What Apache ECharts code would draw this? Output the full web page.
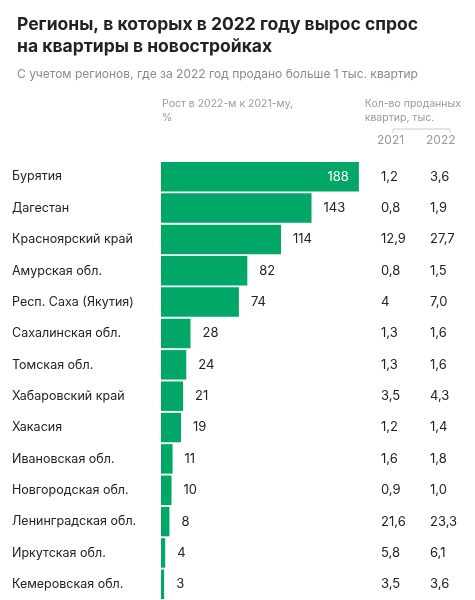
<!DOCTYPE html>
<html><head><meta charset="utf-8">
<script src="https://cdn.jsdelivr.net/npm/echarts@6/dist/echarts.min.js"></script>
<style>body{margin:0}#c{width:475px;height:600px}</style>
</head><body><div id="c"></div>
<script>
// данные
var regions = ['Бурятия','Дагестан','Красноярский край','Амурская обл.','Респ. Саха (Якутия)','Сахалинская обл.','Томская обл.','Хабаровский край','Хакасия','Ивановская обл.','Новгородская обл.','Ленинградская обл.','Иркутская обл.','Кемеровская обл.'];
var growth = [188,143,114,82,74,28,24,21,19,11,10,8,4,3];
var sold2021 = ['1,2','0,8','12,9','0,8','4','1,3','1,3','3,5','1,2','1,6','0,9','21,6','5,8','3,5'];
var sold2022 = ['3,6','1,9','27,7','1,5','7,0','1,6','1,6','4,3','1,4','1,8','1,0','23,3','6,1','3,6'];

var FONT = 'Inter, Roboto, sans-serif';
var myChart = echarts.init(document.getElementById('c'));

var barData = growth.map(function(v, i) {
	if (i == 0) {
		return { value: v, label: { position: 'insideRight', color: '#fff', distance: 10 } };
	}
	return v;
});

function sideAxis(arr, margin) {
	return {
		type: 'category', data: regions, inverse: true, position: 'right',
		axisLine: { show: false }, axisTick: { show: false },
		axisLabel: {
			align: 'left', margin: margin, color: '#222', fontSize: 13, fontFamily: FONT,
			formatter: function(v, i) { return arr[i]; }
		}
	};
}

option = {
	textStyle: { fontFamily: FONT },
	title: [{
		text: 'Регионы, в которых в 2022 году вырос спрос\nна квартиры в новостройках',
		left: 12, top: 9,
		textStyle: { fontSize: 17.5, fontWeight: 'bold', color: '#222', lineHeight: 22, fontFamily: FONT }
	}, {
		text: 'С учетом регионов, где за 2022 год продано больше 1 тыс. квартир',
		left: 12, top: 63,
		textStyle: { fontSize: 12, fontWeight: 'normal', color: '#8a8a8a', fontFamily: FONT }
	}],
	graphic: [
		{ type: 'text', left: 162, top: 97, style: { text: 'Рост в 2022-м к 2021-му,\n%', fill: '#9a9a9a', font: '10.5px ' + FONT, lineHeight: 14 } },
		{ type: 'text', right: 14, top: 97, style: { text: 'Кол-во проданных\nквартир, тыс.', fill: '#9a9a9a', font: '10.5px ' + FONT, lineHeight: 14, align: 'right' } },
		{ type: 'polyline', shape: { points: [[393, 133], [393, 129], [450, 129], [450, 133]] }, style: { stroke: '#ccc', lineWidth: 1, fill: null } },
		{ type: 'text', left: 377, top: 134, style: { text: '2021', fill: '#9a9a9a', font: '12px ' + FONT } },
		{ type: 'text', left: 426, top: 134, style: { text: '2022', fill: '#9a9a9a', font: '12px ' + FONT } }
	],
	grid: { left: 161, top: 161, width: 200, height: 441 },
	xAxis: { type: 'value', min: 0, max: 190, show: false },
	yAxis: [{
		type: 'category', data: regions, inverse: true,
		axisLine: { show: false }, axisTick: { show: false },
		axisLabel: { align: 'left', margin: 149, color: '#222', fontSize: 12.5, fontFamily: FONT }
	}, sideAxis(sold2021, 20), sideAxis(sold2022, 69)],
	series: [{
		type: 'bar', data: barData, barCategoryGap: '6%', yAxisIndex: 0,
		itemStyle: { color: '#00a766' },
		label: { show: true, position: 'right', distance: 12, color: '#222', fontSize: 13, fontFamily: FONT }
	}, { type: 'bar', data: [], yAxisIndex: 1 }, { type: 'bar', data: [], yAxisIndex: 2 }]
};
myChart.setOption(option);
</script></body></html>
